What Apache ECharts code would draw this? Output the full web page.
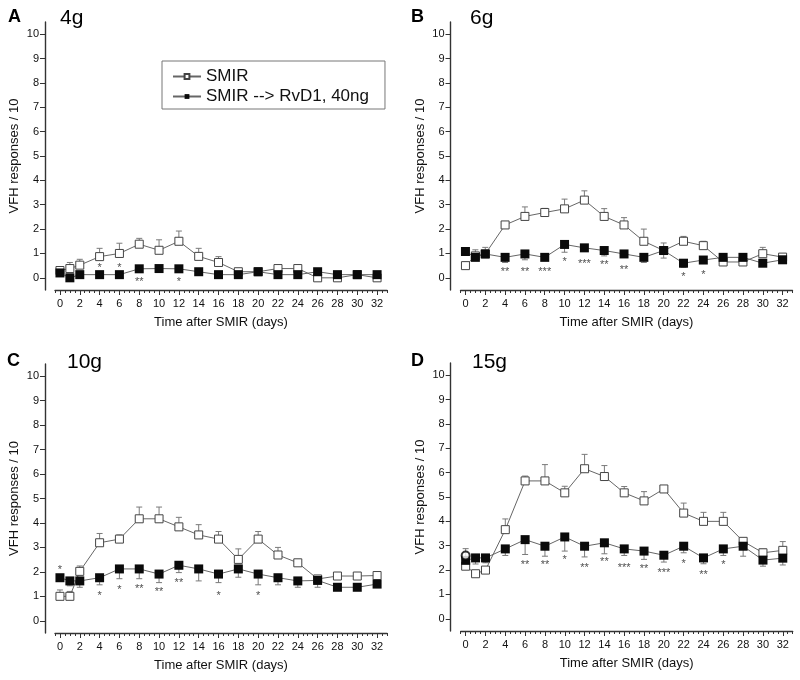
<!DOCTYPE html>
<html><head><meta charset="utf-8">
<script src="https://cdn.jsdelivr.net/npm/echarts@6/dist/echarts.min.js"></script>
<style>html,body{margin:0;padding:0;background:#fff}#c{width:800px;height:680px}</style>
</head><body><div id="c"></div>
<script>
const FONT = '"Liberation Sans", Arial, sans-serif';
const days = [0,1,2,4,6,8,10,12,14,16,18,20,22,24,26,28,30,32];
const xTickLabels = [0,2,4,6,8,10,12,14,16,18,20,22,24,26,28,30,32];
const yTicks = [0,1,2,3,4,5,6,7,8,9,10];
const panelLetters = ['A','B','C','D'];
const forceLabels = ['4g','6g','10g','15g'];
const seriesNames = ['SMIR','SMIR --> RvD1, 40ng'];

// Panel A (4g)
const smirA    = [0.30,0.38,0.52,0.87,1.00,1.38,1.13,1.50,0.88,0.63,0.25,0.25,0.38,0.38,0.00,0.00,0.13,0.00];
const smirErrA = [0.05,0.25,0.24,0.34,0.42,0.24,0.43,0.42,0.33,0.24,0.05,0.05,0.10,0.10,0.03,0.03,0.05,0.03];
const rvdA     = [0.20,0.00,0.13,0.13,0.13,0.37,0.38,0.37,0.25,0.13,0.13,0.25,0.13,0.13,0.25,0.13,0.13,0.13];
const rvdErrA  = [0.10,0.03,0.05,0.05,0.05,0.12,0.10,0.12,0.10,0.05,0.05,0.05,0.05,0.05,0.10,0.05,0.05,0.05];
const starsA   = [[4,0.53,'*'],[6,0.53,'*'],[8,-0.05,'**'],[12,-0.05,'*']];

// Panel B (6g)
const smirB    = [0.50,0.90,0.98,2.17,2.52,2.68,2.83,3.19,2.52,2.17,1.50,1.12,1.50,1.32,0.65,0.65,0.99,0.85];
const smirErrB = [0.15,0.25,0.27,0.05,0.39,0.17,0.40,0.38,0.32,0.30,0.50,0.31,0.20,0.18,0.05,0.05,0.26,0.05];
const rvdB     = [1.08,0.84,0.98,0.84,0.98,0.84,1.37,1.23,1.12,0.98,0.84,1.12,0.60,0.73,0.84,0.84,0.60,0.74];
const rvdErrB  = [0.05,0.10,0.10,0.21,0.24,0.05,0.32,0.08,0.22,0.10,0.21,0.31,0.17,0.10,0.05,0.05,0.10,0.05];
const starsB   = [[4,0.37,'**'],[6,0.37,'**'],[8,0.37,'***'],[10,0.77,'*'],[12,0.69,'***'],[14,0.65,'**'],[16,0.45,'**'],[22,0.14,'*'],[24,0.25,'*']];

// Panel C (10g)
const smirC    = [1.00,1.00,2.02,3.19,3.34,4.17,4.17,3.84,3.51,3.34,2.51,3.34,2.69,2.37,1.71,1.83,1.83,1.85];
const smirErrC = [0.26,0.20,0.22,0.38,0.17,0.48,0.48,0.39,0.42,0.31,0.43,0.31,0.31,0.14,0.05,0.05,0.05,0.05];
const rvdC     = [1.76,1.63,1.63,1.76,2.12,2.12,1.91,2.27,2.12,1.91,2.12,1.91,1.76,1.63,1.65,1.37,1.37,1.50];
const rvdErrC  = [0.10,0.20,0.26,0.29,0.40,0.40,0.35,0.30,0.49,0.35,0.34,0.44,0.29,0.26,0.28,0.10,0.10,0.10];
const starsC   = [[0,2.21,'*'],[4,1.13,'*'],[6,1.37,'*'],[8,1.42,'**'],[10,1.29,'**'],[12,1.67,'**'],[16,1.13,'*'],[20,1.13,'*']];

// Panel D (15g)
const smirD    = [2.16,1.85,2.00,3.66,5.66,5.66,5.17,6.16,5.84,5.17,4.84,5.33,4.34,4.00,4.00,3.18,2.71,2.81];
const smirErrD = [0.72,0.05,0.10,0.44,0.20,0.67,0.27,0.59,0.45,0.26,0.38,0.14,0.41,0.37,0.37,0.10,0.15,0.36];
const rvdD     = [2.40,2.50,2.50,2.87,3.25,2.98,3.36,2.98,3.12,2.87,2.78,2.61,2.98,2.50,2.87,2.98,2.41,2.49];
const rvdErrD  = [0.10,0.25,0.20,0.27,0.61,0.41,0.58,0.44,0.45,0.27,0.34,0.28,0.27,0.24,0.27,0.41,0.25,0.28];
const starsD   = [[6,2.33,'**'],[8,2.33,'**'],[10,2.54,'*'],[12,2.23,'**'],[14,2.46,'**'],[16,2.19,'***'],[18,2.16,'**'],[20,1.99,'***'],[22,2.37,'*'],[24,1.92,'**'],[26,2.33,'*']];
const markerD  = [[0,2.6]];

const panels = [
  {smir:smirA, smirErr:smirErrA, rvd:rvdA, rvdErr:rvdErrA, stars:starsA},
  {smir:smirB, smirErr:smirErrB, rvd:rvdB, rvdErr:rvdErrB, stars:starsB},
  {smir:smirC, smirErr:smirErrC, rvd:rvdC, rvdErr:rvdErrC, stars:starsC},
  {smir:smirD, smirErr:smirErrD, rvd:rvdD, rvdErr:rvdErrD, stars:starsD, extra:markerD}
];

const gridPos = [
  {left:55, top:22, width:332, height:268},
  {left:460.5, top:22, width:332, height:268},
  {left:55, top:364, width:332, height:269},
  {left:460.7, top:363, width:332, height:268}
];
const titlePos = [[8,8,60,8],[411,8,470,8],[7,352,67,352],[411,352,472,352]];

const minorTicks = [];
for (let v = -0.5; v <= 33; v += 0.5) { if (!(v >= 0 && v <= 32 && v % 2 === 0)) minorTicks.push(v); }

const axisColor = '#333';
const errColor = '#7a7a7a';
const lineColor = '#666';

function errRender(params, api) {
  const x = api.value(0), y = api.value(1), e = api.value(2);
  const p0 = api.coord([x, y]);
  const p1 = api.coord([x, y + e]);
  const w = 3;
  return {type:'group', children:[
    {type:'line', shape:{x1:p0[0], y1:p0[1], x2:p1[0], y2:p1[1]}, style:{stroke:errColor, lineWidth:1}},
    {type:'line', shape:{x1:p1[0]-w, y1:p1[1], x2:p1[0]+w, y2:p1[1]}, style:{stroke:errColor, lineWidth:1}}
  ]};
}

const grid = [], xAxis = [], yAxis = [], series = [], title = [];
panels.forEach((p, g) => {
  grid.push(Object.assign({containLabel:false}, gridPos[g]));
  const tp = titlePos[g];
  title.push({text:panelLetters[g], left:tp[0], top:tp[1], padding:0,
    textStyle:{fontFamily:FONT, fontSize:18, fontWeight:'bold', color:'#000'}});
  title.push({text:forceLabels[g], left:tp[2], top:tp[3], padding:0,
    textStyle:{fontFamily:FONT, fontSize:21, fontWeight:'normal', color:'#000'}});
  xAxis.push({type:'value', gridIndex:g, min:-0.5, max:33, position:'bottom',
    axisLine:{show:true, onZero:false, lineStyle:{color:axisColor, width:1.4}},
    axisTick:{show:true, customValues:xTickLabels, length:5, lineStyle:{color:axisColor, width:1}},
    axisLabel:{customValues:xTickLabels, fontFamily:FONT, fontSize:11, color:'#111', margin:8},
    splitLine:{show:false},
    name:'Time after SMIR (days)', nameLocation:'middle', nameGap:26,
    nameTextStyle:{fontFamily:FONT, fontSize:13, color:'#111'}});
  xAxis.push({type:'value', gridIndex:g, min:-0.5, max:33, position:'bottom',
    axisLine:{show:false, onZero:false},
    axisTick:{show:true, customValues:minorTicks, length:3, lineStyle:{color:axisColor, width:1}},
    axisLabel:{show:false}, splitLine:{show:false}});
  yAxis.push({type:'value', gridIndex:g, min:-0.5, max:10.5, offset:10,
    axisLine:{show:true, onZero:false, lineStyle:{color:axisColor, width:1.4}},
    axisTick:{show:true, customValues:yTicks, length:5, lineStyle:{color:axisColor, width:1}},
    axisLabel:{customValues:yTicks, fontFamily:FONT, fontSize:11, color:'#111', margin:6},
    splitLine:{show:false},
    name:'VFH responses / 10', nameLocation:'middle', nameGap:24, nameRotate:90,
    nameTextStyle:{fontFamily:FONT, fontSize:13, color:'#111'}});
  const xi = 2*g;
  series.push({type:'custom', xAxisIndex:xi, yAxisIndex:g, renderItem:errRender, encode:{x:0,y:1}, z:1,
    data: days.map((d,i) => [d, p.smir[i], p.smirErr[i]])});
  series.push({type:'custom', xAxisIndex:xi, yAxisIndex:g, renderItem:errRender, encode:{x:0,y:1}, z:1,
    data: days.map((d,i) => [d, p.rvd[i], -p.rvdErr[i]])});
  series.push({name:seriesNames[0], type:'line', xAxisIndex:xi, yAxisIndex:g, z:3,
    data: days.map((d,i) => [d, p.smir[i]]),
    symbol:'rect', symbolSize:8, showAllSymbol:true,
    lineStyle:{color:lineColor, width:1},
    itemStyle:{color:'#fff', borderColor:'#444', borderWidth:1}});
  series.push({name:seriesNames[1], type:'line', xAxisIndex:xi, yAxisIndex:g, z:4,
    data: days.map((d,i) => [d, p.rvd[i]]),
    symbol:'rect', symbolSize:9, showAllSymbol:true,
    lineStyle:{color:lineColor, width:1},
    itemStyle:{color:'#0a0a0a', borderColor:'#0a0a0a', borderWidth:0}});
  series.push({type:'scatter', xAxisIndex:xi, yAxisIndex:g, z:5, symbolSize:1,
    itemStyle:{color:'rgba(0,0,0,0)'},
    data: p.stars,
    label:{show:true, position:'inside', offset:[0,3], formatter: q => q.data[2],
      fontFamily:FONT, fontSize:11, color:'#222'}});
  if (p.extra) {
    series.push({type:'scatter', xAxisIndex:xi, yAxisIndex:g, z:6, symbol:'circle', symbolSize:8,
      itemStyle:{color:'#fff', borderColor:'#000', borderWidth:2}, data:p.extra});
  }
});

const chart = echarts.init(document.getElementById('c'), null, {renderer:'canvas'});
chart.setOption({
  animation:false,
  backgroundColor:'#fff',
  title: title,
  legend:{data:seriesNames, left:162, top:61, orient:'vertical', itemGap:3, itemWidth:28, itemHeight:6,
    padding:[7,16,4,10], borderColor:'#777', borderWidth:1, backgroundColor:'#fff', selectedMode:false,
    textStyle:{fontFamily:FONT, fontSize:17, color:'#111'}},
  grid: grid, xAxis: xAxis, yAxis: yAxis, series: series
});
</script></body></html>
